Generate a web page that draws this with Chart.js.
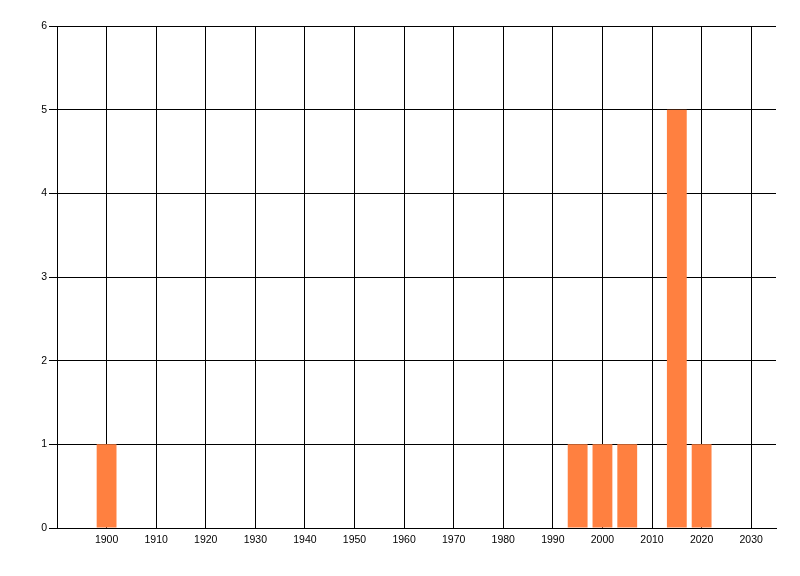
<!DOCTYPE html>
<html lang="en">
<head>
  <meta charset="UTF-8" />
  <title>Chart</title>
  <script src="https://cdn.jsdelivr.net/npm/chart.js"></script>
  <style>
    body {
      margin: 0;
      background-color: #fff;
    }
    canvas {
      display: block;
    }
  </style>
</head>
<body>
  <canvas id="yearChart" width="800" height="576"></canvas>

  <script>
    const years = [1900, 1995, 2000, 2005, 2015, 2020];
    const counts = [1, 1, 1, 1, 5, 1];
    const xTicks = [1900, 1910, 1920, 1930, 1940, 1950, 1960, 1970, 1980, 1990, 2000, 2010, 2020, 2030];

    const points = years.map((y, i) => ({ x: y, y: counts[i] }));

    new Chart(document.getElementById("yearChart"), {
      type: "bar",
      data: {
        datasets: [{
          data: points,
          backgroundColor: "#ff8040",
          borderWidth: 0,
          barPercentage: 0.8,
          categoryPercentage: 1
        }]
      },
      options: {
        responsive: false,
        animation: false,
        devicePixelRatio: 1,
        layout: {
          padding: { top: 26, right: 24, bottom: 0, left: 0 }
        },
        plugins: {
          legend: { display: false },
          tooltip: { enabled: false }
        },
        scales: {
          x: {
            type: "linear",
            min: 1890,
            max: 2035,
            offset: false,
            afterBuildTicks: (scale) => {
              scale.ticks = xTicks.map(v => ({ value: v }));
            },
            afterFit: (scale) => { scale.height = 48; },
            grid: {
              color: "#000",
              lineWidth: 1,
              offset: false,
              drawTicks: false
            },
            border: { color: "#000", width: 1 },
            ticks: {
              color: "#000",
              padding: 6,
              maxRotation: 0,
              autoSkip: false,
              font: { family: "Liberation Sans", size: 10.5 },
              callback: (v) => String(v)
            }
          },
          y: {
            min: 0,
            max: 6,
            afterFit: (scale) => { scale.width = 57; },
            grid: {
              color: "#000",
              lineWidth: 1,
              tickLength: 8
            },
            border: { color: "#000", width: 1 },
            ticks: {
              stepSize: 1,
              color: "#000",
              padding: 2,
              font: { family: "Liberation Sans", size: 10.5 }
            }
          }
        }
      }
    });
  </script>
</body>
</html>
